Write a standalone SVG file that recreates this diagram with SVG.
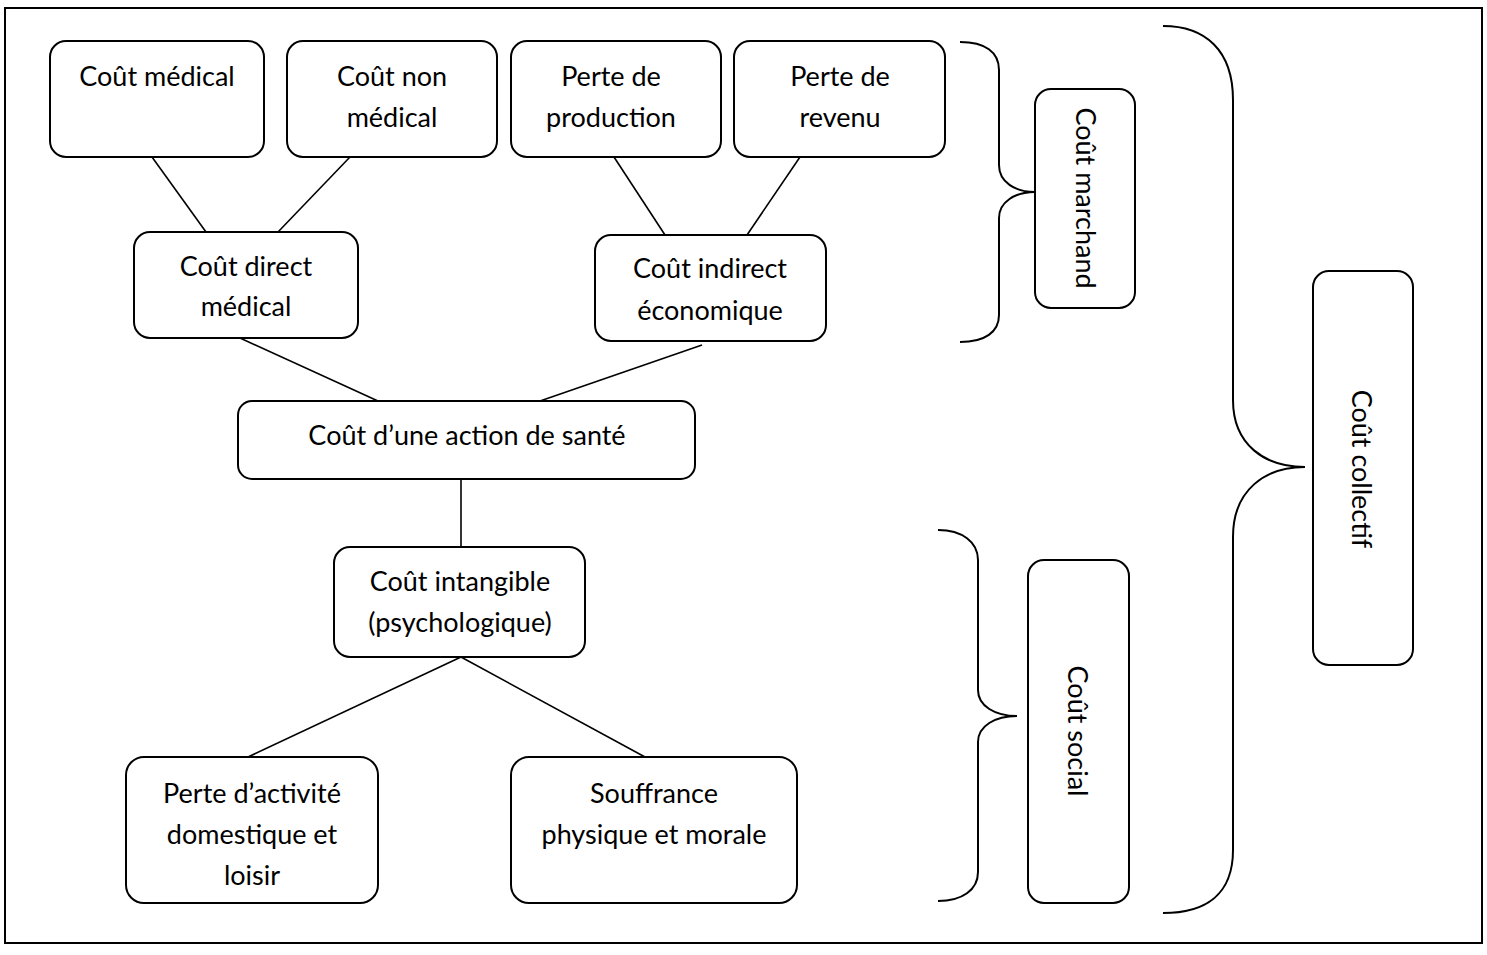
<svg xmlns="http://www.w3.org/2000/svg" width="1487" height="955" viewBox="0 0 1487 955">
<style>
.box{fill:#fff;stroke:#000;stroke-width:2}
.ln{stroke:#000;stroke-width:1.6;fill:none}
.br{stroke:#000;stroke-width:2;fill:none}
text{font-family:Lato,"Open Sans",sans-serif;font-size:27px;fill:#000;text-anchor:middle;dominant-baseline:central}
</style>
<rect x="0" y="0" width="1487" height="955" fill="#fff"/>
<rect x="5" y="8" width="1477" height="935" fill="none" stroke="#000" stroke-width="2"/>
<g id="connectors">
<line class="ln" x1="152" y1="157" x2="206" y2="232"/>
<line class="ln" x1="350" y1="157" x2="278" y2="232"/>
<line class="ln" x1="614" y1="157" x2="665" y2="235"/>
<line class="ln" x1="800" y1="157" x2="747" y2="235"/>
<line class="ln" x1="240" y1="338" x2="378" y2="401"/>
<line class="ln" x1="702" y1="345" x2="540" y2="401"/>
<line class="ln" x1="461" y1="479" x2="461" y2="547"/>
<line class="ln" x1="461" y1="657" x2="248" y2="757"/>
<line class="ln" x1="461" y1="657" x2="645" y2="757"/>
</g>
<g id="braces">
<path class="br" d="M960,42 C985,42 999,52 999,70 L999,165 C999,182 1015,192 1035,192 C1015,192 999,202 999,218 L999,315 C999,332 985,342 960,342"/>
<path class="br" d="M938,530 C962,530 978,542 978,560 L978,690 C978,706 995,716 1017,716 C995,716 978,726 978,742 L978,872 C978,890 962,901 938,901"/>
<path class="br" d="M1163,26 C1205,26 1233,50 1233,100 L1233,400 C1233,445 1265,467 1305,467 C1265,467 1233,490 1233,537 L1233,850 C1233,895 1205,913 1163,913"/>
</g>
<g id="n1"><rect class="box" x="50" y="41" width="214" height="116" rx="16"/><text x="157" y="75">Coût médical</text></g>
<g id="n2"><rect class="box" x="287" y="41" width="210" height="116" rx="16"/><text x="392" y="75">Coût non</text><text x="392" y="116">médical</text></g>
<g id="n3"><rect class="box" x="511" y="41" width="210" height="116" rx="16"/><text x="611" y="75">Perte de</text><text x="611" y="116">production</text></g>
<g id="n4"><rect class="box" x="734" y="41" width="211" height="116" rx="16"/><text x="840" y="75">Perte de</text><text x="840" y="116">revenu</text></g>
<g id="n5"><rect class="box" x="134" y="232" width="224" height="106" rx="16"/><text x="246" y="265">Coût direct</text><text x="246" y="305">médical</text></g>
<g id="n6"><rect class="box" x="595" y="235" width="231" height="106" rx="16"/><text x="710" y="267">Coût indirect</text><text x="710" y="309">économique</text></g>
<g id="n7"><rect class="box" x="238" y="401" width="457" height="78" rx="14"/><text x="467" y="434">Coût d’une action de santé</text></g>
<g id="n8"><rect class="box" x="334" y="547" width="251" height="110" rx="16"/><text x="460" y="580">Coût intangible</text><text x="460" y="621">(psychologique)</text></g>
<g id="n9"><rect class="box" x="126" y="757" width="252" height="146" rx="18"/><text x="252" y="792">Perte d’activité</text><text x="252" y="833">domestique et</text><text x="252" y="874">loisir</text></g>
<g id="n10"><rect class="box" x="511" y="757" width="286" height="146" rx="18"/><text x="654" y="792">Souffrance</text><text x="654" y="833">physique et morale</text></g>
<g id="n11"><rect class="box" x="1035" y="89" width="100" height="219" rx="16"/><text transform="translate(1086,198) rotate(90)">Coût marchand</text></g>
<g id="n12"><rect class="box" x="1028" y="560" width="101" height="343" rx="16"/><text transform="translate(1078,731) rotate(90)">Coût social</text></g>
<g id="n13"><rect class="box" x="1313" y="271" width="100" height="394" rx="16"/><text transform="translate(1362,469) rotate(90)">Coût collectif</text></g>
</svg>
